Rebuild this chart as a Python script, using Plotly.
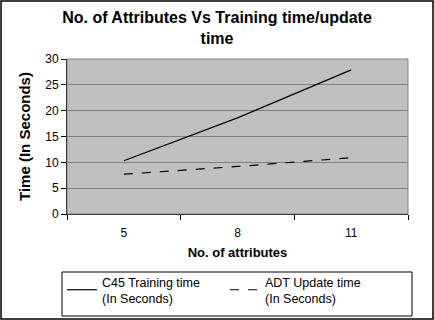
import plotly.graph_objects as go

categories = ["5", "8", "11"]
c45_training = [10.3, 18.6, 27.9]
adt_update = [7.7, 9.2, 10.9]
y_ticks = [0, 5, 10, 15, 20, 25, 30]

W, H = 434, 320
L, R, T, B = 67, 26, 59, 106
pw, ph = W - L - R, H - T - B


def px_x(v):
    return (v - L) / pw


def px_y(v):
    return (T + ph - v) / ph


fig = go.Figure()
fig.add_trace(go.Scatter(x=categories, y=c45_training, mode="lines",
                         name="C45 Training time<br>(In Seconds)",
                         line=dict(color="black", width=1.2)))
fig.add_trace(go.Scatter(x=categories, y=adt_update, mode="lines",
                         name="ADT Update time<br>(In Seconds)",
                         line=dict(color="black", width=1.2, dash="dash")))

font = "Arial, Liberation Sans, sans-serif"
fig.update_layout(
    width=W, height=H,
    margin=dict(l=L, r=R, t=T, b=B, autoexpand=False),
    paper_bgcolor="white", plot_bgcolor="#C0C0C0",
    font=dict(family=font, color="black", size=12),
    title=dict(text="<b>No. of Attributes Vs Training time/update<br>time</b>",
               x=0.5, xanchor="center", y=1 - 23 / H, yanchor="middle",
               font=dict(size=16, family=font)),
    showlegend=True,
    legend=dict(orientation="h", x=px_x(62), xanchor="left",
                y=px_y(267), yanchor="top",
                borderwidth=0, bgcolor="rgba(0,0,0,0)",
                font=dict(size=12.5, family=font),
                entrywidth=118, entrywidthmode="pixels", tracegroupgap=0),
    xaxis=dict(type="category", range=[-0.5, 2.5], tickson="boundaries",
               ticks="outside", ticklen=5, tickcolor="black",
               showline=True, linecolor="black", linewidth=1,
               showgrid=False, tickfont=dict(size=12), ticklabelstandoff=8,
               title=dict(text="<b>No. of attributes</b>", font=dict(size=13), standoff=8)),
    yaxis=dict(range=[0, 30], tickvals=y_ticks, ticks="outside", ticklen=5,
               tickcolor="black", showline=True, linecolor="black", linewidth=1,
               gridcolor="#808080", gridwidth=1, zeroline=False,
               tickfont=dict(size=12),
               title=dict(text="<b>Time (In Seconds)</b>", font=dict(size=15), standoff=10)),
)

# plot area frame
fig.add_shape(type="rect", xref="paper", yref="paper", x0=0, y0=0, x1=1, y1=1,
              line=dict(color="#808080", width=1), layer="above")
# legend box
fig.add_shape(type="rect", xref="paper", yref="paper",
              x0=px_x(62), x1=px_x(412), y0=px_y(316), y1=px_y(272),
              line=dict(color="black", width=1), layer="above")
# outer chart border
fig.add_shape(type="rect", xref="paper", yref="paper",
              x0=px_x(1), x1=px_x(W - 1), y0=px_y(H - 1), y1=px_y(1),
              line=dict(color="black", width=1.5), layer="above")

fig.write_html("out.html")
